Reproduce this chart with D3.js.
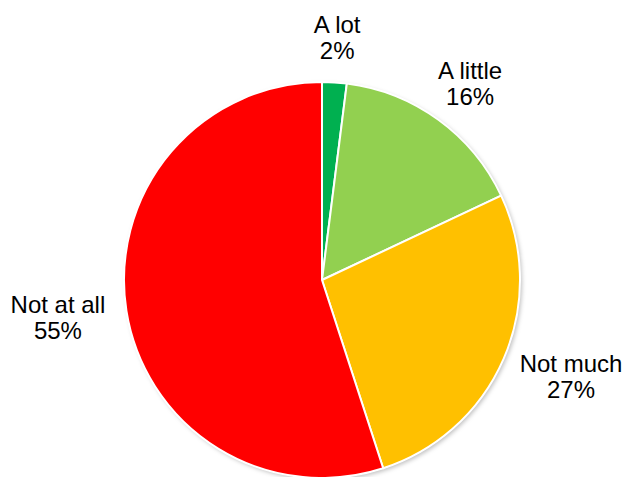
<!DOCTYPE html>
<html>
<head>
<meta charset="utf-8">
<script src="https://cdn.jsdelivr.net/npm/d3@7"></script>
<style>
  body { margin: 0; background: #fff; }
  text { font-family: Arial, "Liberation Sans", sans-serif; }
</style>
</head>
<body>
<script>
var labels = ['A lot', 'A little', 'Not much', 'Not at all'];
var values = [2, 16, 27, 55];
var colors = ['#00B050', '#92D050', '#FFC000', '#FF0000'];

var screen = {width: 624, height: 477};
var cx = 322, cy = 280, radius = 198;
var labelR = 220;

var svg = d3.select('body').append('svg')
    .attr('width', screen.width)
    .attr('height', screen.height)
    .style('display', 'block');

// soft shadow under the pie
var defs = svg.append('defs');
var filt = defs.append('filter').attr('id', 'shadow')
    .attr('x', '-10%').attr('y', '-10%').attr('width', '120%').attr('height', '120%');
filt.append('feDropShadow')
    .attr('dx', 2).attr('dy', 2).attr('stdDeviation', 2)
    .attr('flood-color', '#000').attr('flood-opacity', 0.25);

var data = labels.map(function(d, i) {
  return {label: d, value: values[i], color: colors[i]};
});

var pie = d3.pie().sort(null).value(function(d) { return d.value; });
var arc = d3.arc().innerRadius(0).outerRadius(radius);
var labelArc = d3.arc().innerRadius(labelR).outerRadius(labelR);

var g = svg.append('g')
    .attr('transform', 'translate(' + cx + ',' + cy + ')');

g.append('circle')
    .attr('r', radius)
    .attr('fill', '#fff')
    .attr('filter', 'url(#shadow)');

var arcs = pie(data);

g.selectAll('path')
    .data(arcs)
    .enter()
    .append('path')
    .attr('d', arc)
    .attr('fill', function(d) { return d.data.color; })
    .attr('stroke', '#fff')
    .attr('stroke-width', 2)
    .attr('stroke-linejoin', 'round');

// labels outside the pie
var lbl = g.selectAll('text.lbl')
    .data(arcs)
    .enter()
    .append('text')
    .attr('class', 'lbl')
    .attr('text-anchor', 'middle')
    .attr('font-size', 24)
    .attr('fill', '#000');

lbl.append('tspan')
    .attr('x', 0).attr('y', 0)
    .text(function(d) { return d.data.label; });
lbl.append('tspan')
    .attr('x', 0).attr('y', 26)
    .text(function(d) { return d.data.value + '%'; });

lbl.each(function(d) {
  var b = this.getBBox();
  var p = labelArc.centroid(d);
  var a = (d.startAngle + d.endAngle) / 2;
  var ux = Math.sin(a), uy = -Math.cos(a);
  var h = b.height - 8;
  var px = p[0] + ux * b.width / 2, py = p[1] + uy * h / 2;
  var ox = b.x + b.width / 2, oy = b.y + b.height / 2;
  d3.select(this).attr('transform', 'translate(' + (px - ox) + ',' + (py - oy) + ')');
});
</script>
</body>
</html>
